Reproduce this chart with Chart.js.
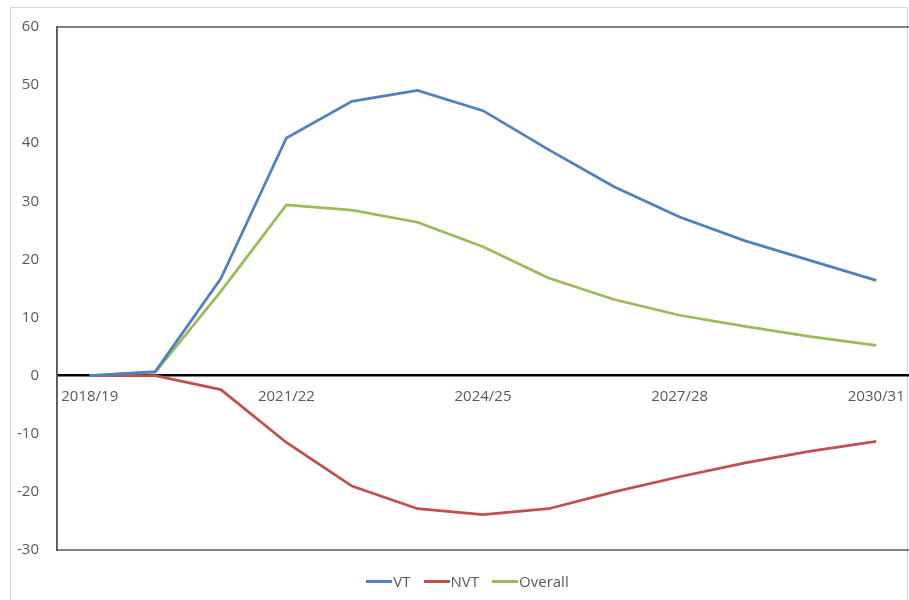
<!DOCTYPE html>
<html>
<head>
<meta charset="utf-8">
<script src="https://cdn.jsdelivr.net/npm/chart.js@4"></script>
<style>
  html, body { margin: 0; padding: 0; background: #fff; }
  #wrap { position: relative; width: 909px; height: 600px; overflow: hidden; }
  #frame { position: absolute; left: 10px; top: 7px; width: 898px; height: 620px; border: 1px solid #d9d9d9; box-sizing: border-box; }
  canvas { position: absolute; left: 0; top: 0; }
  #legend { position: absolute; left: 0; width: 935px; top: 571px; height: 20px; display: flex; justify-content: center; align-items: center;
            font-family: 'Open Sans', 'Noto Sans', sans-serif; font-size: 15px; color: #595959; }
  #legend .item { display: flex; align-items: center; margin: 0 6.5px; }
  #legend .swatch { width: 26px; height: 3px; margin-right: 1px; }
</style>
</head>
<body>
<div id="wrap">
  <div id="frame"></div>
  <canvas id="c" width="909" height="600"></canvas>
  <div id="legend"></div>
</div>
<script>
const categories = ["2018/19","2019/20","2020/21","2021/22","2022/23","2023/24","2024/25","2025/26","2026/27","2027/28","2028/29","2029/30","2030/31"];
const vtValues = [0, 0.7, 16.7, 40.9, 47.2, 49.1, 45.6, 38.9, 32.5, 27.3, 23.2, 19.8, 16.4];
const nvtValues = [0, 0, -2.4, -11.5, -19.0, -22.9, -23.9, -22.9, -20.0, -17.4, -15.0, -13.0, -11.3];
const overallValues = [0, 0.6, 14.5, 29.4, 28.5, 26.4, 22.2, 16.8, 13.1, 10.4, 8.5, 6.7, 5.2];
const yMin = -30, yMax = 60, yStep = 10;

const frameBox = {
  id: 'frameBox',
  afterDraw(chart) {
    const {ctx, chartArea: a} = chart;
    ctx.save();
    ctx.strokeStyle = '#595959';
    ctx.lineWidth = 1.5;
    ctx.beginPath();
    ctx.moveTo(a.right, a.top);
    ctx.lineTo(a.left, a.top);
    ctx.lineTo(a.left, a.bottom);
    ctx.lineTo(a.right, a.bottom);
    ctx.stroke();
    ctx.restore();
  }
};

const htmlLegend = {
  id: 'htmlLegend',
  afterUpdate(chart) {
    const box = document.getElementById('legend');
    box.innerHTML = '';
    chart.data.datasets.forEach(ds => {
      const item = document.createElement('div');
      item.className = 'item';
      const sw = document.createElement('span');
      sw.className = 'swatch';
      sw.style.background = ds.borderColor;
      const tx = document.createElement('span');
      tx.textContent = ds.label;
      item.appendChild(sw);
      item.appendChild(tx);
      box.appendChild(item);
    });
  }
};

const font = { family: "'Open Sans', 'Noto Sans', sans-serif", size: 15 };

new Chart(document.getElementById('c'), {
  type: 'line',
  data: {
    labels: categories,
    datasets: [
      { label: 'VT', data: vtValues, borderColor: '#4F81BD', backgroundColor: '#4F81BD', borderWidth: 2.75, pointRadius: 0, tension: 0 },
      { label: 'NVT', data: nvtValues, borderColor: '#C0504D', backgroundColor: '#C0504D', borderWidth: 2.75, pointRadius: 0, tension: 0 },
      { label: 'Overall', data: overallValues, borderColor: '#9BBB59', backgroundColor: '#9BBB59', borderWidth: 2.75, pointRadius: 0, tension: 0 }
    ]
  },
  options: {
    responsive: false,
    animation: false,
    devicePixelRatio: 1,
    layout: { padding: { left: 10, top: 24, right: 0, bottom: 50 } },
    plugins: {
      tooltip: { enabled: false },
      legend: { display: false }
    },
    scales: {
      x: {
        position: { y: 0 },
        offset: true,
        grid: { display: false, drawTicks: false },
        border: { display: true, color: '#000000', width: 2.5 },
        ticks: {
          color: '#595959',
          font: font,
          padding: 12,
          maxRotation: 0,
          autoSkip: false,
          callback: function(v, i) { return i % 3 === 0 ? categories[i] : ''; }
        },
        afterFit(scale) { scale.paddingLeft = 0; scale.paddingRight = 0; }
      },
      y: {
        min: yMin,
        max: yMax,
        grid: { display: false, drawTicks: false },
        border: { display: true, color: '#595959', width: 1.5 },
        ticks: { stepSize: yStep, color: '#595959', font: font, padding: 18 },
        afterFit(scale) { scale.width = 47; }
      }
    }
  },
  plugins: [frameBox, htmlLegend]
});
</script>
</body>
</html>
